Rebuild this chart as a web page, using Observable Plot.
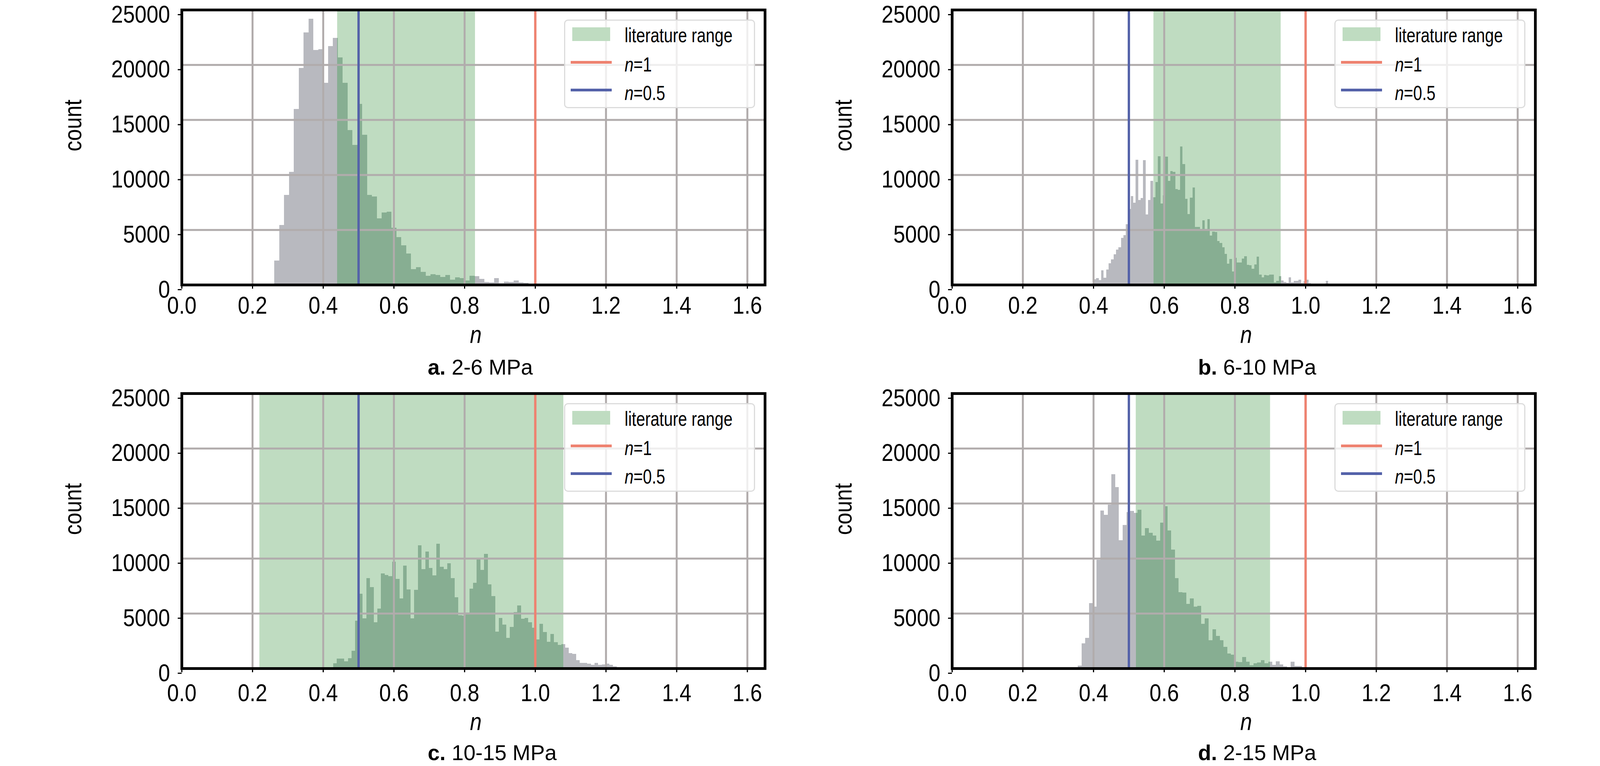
<!DOCTYPE html>
<html>
<head>
<meta charset="utf-8">
<script src="https://cdn.jsdelivr.net/npm/d3@7"></script>
<script src="https://cdn.jsdelivr.net/npm/@observablehq/plot@0.6"></script>
<style>
  html, body { margin: 0; padding: 0; background: #fff; }
  #root { position: relative; width: 4134px; height: 1961px; background: #fff; overflow: hidden; color: #000; }
  .panel { position: absolute; }
  .legend { position: absolute; width: 489px; height: 227px; box-sizing: border-box;
            border: 3px solid #dcdcdc; border-radius: 10px; background: rgba(255,255,255,0.8);
            font-family: "Liberation Sans", Arial, sans-serif; }
  .legend .sw { position: absolute; }
  .legend .lt { position: absolute; left: 152px; line-height: 1; white-space: nowrap;
                transform-origin: 0 0; }
  .caption { position: absolute; font-family: "Liberation Sans", Arial, sans-serif; font-size: 55px;
             line-height: 0.9; white-space: nowrap; }
</style>
</head>
<body>
<div id="root"></div>
<script>
// ---------------- data ----------------
const xTicks = [0.0, 0.2, 0.4, 0.6, 0.8, 1.0, 1.2, 1.4, 1.6];
const yTicks = [0, 5000, 10000, 15000, 20000, 25000];
const refLines = [1.0, 0.5];
const legendLabels = ["literature range", "=1", "=0.5"];

// panel a: 2-6 MPa
const captionA = ["a.", "2-6 MPa"];
const litA = [0.44, 0.83];
const binStartA = 0.2622, binWidthA = 0.01382;
const countsA = [2200, 5440, 8150, 10270, 15970, 19710, 22950, 24170, 21350, 21430,
  18370, 21700, 22450, 20650, 18370, 14070, 12730, 16430, 13630, 8170,
  8040, 6050, 6570, 6630, 5170, 4320, 3570, 2840, 1430, 1600,
  1170, 820, 960, 880, 700, 880, 460, 670, 590, 390,
  820, 780, 550, 260, 230, 600, 130, 270, 260, 390, 210, 170];

// panel b: 6-10 MPa
const captionB = ["b.", "6-10 MPa"];
const litB = [0.57, 0.93];
const binStartB = 0.4013, binWidthB = 0.00698;
const countsB = [480, 620, 440, 1320, 645, 1390, 1960, 2325, 2775, 3200, 3400, 4270, 4500, 5510,
  6890, 8075, 7450, 11370, 7720, 7880, 11330, 6390, 7700, 9440, 7960, 9340, 11690, 7370, 8140, 11660,
  9460, 10325, 10270, 8690, 8645, 12560, 10975, 7805, 6420, 7935, 8835, 5260, 5260, 5095, 5850, 5095,
  5970, 4490, 4820, 4790, 3995, 3805,
  3402, 2810, 1923, 2337, 1213, 2456, 2018, 2018, 2373, 2597, 1828, 1781, 1473, 1840, 2550,
  941, 657, 882, 846, 941, 917, 207, 361, 775, 385, 266, 183, 680, 207, 361, 349, 467, 148, 302, 479, 148,
  40, 40, 40, 40, 40, 40, 349];

// panel c: 10-15 MPa
const captionC = ["c.", "10-15 MPa"];
const litC = [0.22, 1.08];
const binStartC = 0.4287, binWidthC = 0.010415;
const countsC = [461, 875, 875, 638, 922, 1608, 4350, 6785, 4539, 8191,
  7376, 4184, 5437, 8617, 8499, 8380, 9704, 8132, 6371, 9326,
  7163, 4539, 7127, 11170, 9019, 10614, 9113, 8463, 11324, 9231,
  9030, 9562, 8203, 6454, 4846, 4799, 5094, 7257, 7766, 9893,
  8960, 10390, 7648, 6584, 3333, 4586, 3960, 2766, 3771, 5130,
  5709, 4515, 4586, 4208, 3676, 2636, 4031, 3286, 2399, 3132,
  2376, 2139, 2198, 1891, 1395, 1300, 745, 508, 508, 426,
  307, 485, 331, 366, 426, 307, 189];

// panel d: 2-15 MPa
const captionD = ["d.", "2-15 MPa"];
const litD = [0.52, 0.90];
const binStartD = 0.3562, binWidthD = 0.010568;
const countsD = [233, 2287, 2765, 5943, 5620, 9871, 14340, 13940, 14880, 17650,
  16470, 11640, 13020, 14220, 14310, 14120, 14400, 12080, 12760, 12330,
  12080, 11610, 13230, 14730, 12530, 10800, 8190, 6910, 6890, 5850,
  6370, 5620, 5685, 4044, 4560, 2545, 3553, 2933, 2571, 1951,
  1357, 1227, 620, 556, 1034, 607, 284, 452, 517, 762,
  478, 620, 323, 646, 349, 168, 90, 620, 220, 220];

// ---------------- style ----------------
const FONT = "'Liberation Sans', Arial, Helvetica, sans-serif";
const FS = 63;          // axis text size
const NARROW_X = 0.86;  // horizontal squeeze to mimic the condensed face of the original
const LEG_FS = 52, LEG_X = 0.79;

const BAND = "#bfdcc1";
const GREY = "#b8b9bf";
const DARK = "#87ae92";
const RED = "#ee8270";
const BLUE = "#5462a9";
const GRID = "#b1acac";

const ML = 330, MR = 20, MT = 25, MB = 180;
const FW = 1493, FH = 704;

function condense(svg) {
  svg.querySelectorAll("text").forEach(t => {
    const tr = t.getAttribute("transform");
    if (tr) {
      t.setAttribute("transform", tr + ` scale(${NARROW_X},1)`);
    } else {
      const x = +(t.getAttribute("x") || 0), y = +(t.getAttribute("y") || 0);
      t.setAttribute("transform", `translate(${x},${y}) scale(${NARROW_X},1)`);
      t.setAttribute("x", 0);
      t.setAttribute("y", 0);
    }
  });
  return svg;
}

function makePlot(start, width, counts, lit, row) {
  const bins = counts.map((c, i) => ({x1: start + i * width, x2: start + (i + 1) * width, count: c}));
  const inside = bins
    .filter(b => b.x2 > lit[0] && b.x1 < lit[1])
    .map(b => ({x1: Math.max(b.x1, lit[0]), x2: Math.min(b.x2, lit[1]), count: b.count}));
  const svg = Plot.plot({
    width: ML + FW + MR,
    height: MT + FH + MB,
    marginLeft: ML, marginRight: MR, marginTop: MT, marginBottom: MB,
    style: {fontFamily: FONT, fontSize: FS + "px", background: "transparent", color: "#000", overflow: "visible"},
    x: {domain: [0, 1.65]},
    y: {domain: [0, 25000]},
    marks: [
      Plot.rect([lit], {x1: d => d[0], x2: d => d[1], fill: BAND}),
      Plot.rect(bins, {x1: "x1", x2: "x2", y1: 0, y2: "count", fill: GREY, shapeRendering: "crispEdges"}),
      Plot.rect(inside, {x1: "x1", x2: "x2", y1: 0, y2: "count", fill: DARK, shapeRendering: "crispEdges"}),
      Plot.gridX(xTicks, {stroke: GRID, strokeOpacity: 1, strokeWidth: 5}),
      Plot.gridY(yTicks, {stroke: GRID, strokeOpacity: 1, strokeWidth: 5}),
      Plot.ruleX([refLines[0]], {stroke: RED, strokeWidth: 6}),
      Plot.ruleX([refLines[1]], {stroke: BLUE, strokeWidth: 6}),
      Plot.frame({stroke: "#000", strokeWidth: 7}),
      Plot.axisX(xTicks, {tickFormat: d3.format(".1f"), tickSize: 10, tickPadding: row.tickPad, strokeWidth: 3, fontSize: FS, label: null}),
      Plot.axisY(yTicks, {tickFormat: d3.format("d"), tickSize: 10, tickPadding: 20, strokeWidth: 3, fontSize: FS, dy: 12, label: null}),
      Plot.text(["n"], {text: d => d, frameAnchor: "bottom", dx: 6, dy: row.nDy, lineAnchor: "bottom", fontStyle: "italic", fontSize: FS}),
      Plot.text(["count"], {text: d => d, frameAnchor: "left", dx: -258 - 0.32 * FS, dy: 10, rotate: -90, fontSize: FS})
    ]
  });
  return condense(svg);
}

const rows = [
  {ft: 25, tickPad: 19, nDy: 148, capBase: 960},
  {ft: 1007, tickPad: 29, nDy: 157, capBase: 1947}
];

const root = document.getElementById("root");
const panels = [
  {fl: 465, row: rows[0], start: binStartA, width: binWidthA, counts: countsA, lit: litA, cap: captionA},
  {fl: 2437, row: rows[0], start: binStartB, width: binWidthB, counts: countsB, lit: litB, cap: captionB},
  {fl: 465, row: rows[1], start: binStartC, width: binWidthC, counts: countsC, lit: litC, cap: captionC},
  {fl: 2437, row: rows[1], start: binStartD, width: binWidthD, counts: countsD, lit: litD, cap: captionD}
];

for (const p of panels) {
  const ft = p.row.ft;
  const div = document.createElement("div");
  div.className = "panel";
  div.style.left = (p.fl - ML) + "px";
  div.style.top = (ft - MT) + "px";
  div.appendChild(makePlot(p.start, p.width, p.counts, p.lit, p.row));
  root.appendChild(div);

  // legend (upper right, inside the frame)
  const asc = 0.8465 * LEG_FS;
  const lt = `font-size:${LEG_FS}px;transform:scaleX(${LEG_X})`;
  const lg = document.createElement("div");
  lg.className = "legend";
  lg.style.left = (p.fl + FW - 25 - 489) + "px";
  lg.style.top = (ft + 25) + "px";
  lg.innerHTML =
    `<div class="sw" style="left:18px;top:17px;width:97px;height:35px;background:${BAND}"></div>` +
    `<div class="sw" style="left:14px;top:103px;width:105px;height:7px;background:${RED}"></div>` +
    `<div class="sw" style="left:14px;top:174px;width:105px;height:7px;background:${BLUE}"></div>` +
    `<div class="lt" style="top:${55 - asc}px;${lt}">${legendLabels[0]}</div>` +
    `<div class="lt" style="top:${130 - asc}px;${lt}"><i>n</i>${legendLabels[1]}</div>` +
    `<div class="lt" style="top:${203 - asc}px;${lt}"><i>n</i>${legendLabels[2]}</div>`;
  root.appendChild(lg);

  // caption below the panel
  const cap = document.createElement("div");
  cap.className = "caption";
  cap.style.left = (p.fl + 630) + "px";
  cap.style.top = (p.row.capBase - (0.905 - (1.117 - 0.9) / 2) * 55) + "px";
  cap.innerHTML = `<b>${p.cap[0]}</b> ${p.cap[1]}`;
  root.appendChild(cap);
}
</script>
</body>
</html>
